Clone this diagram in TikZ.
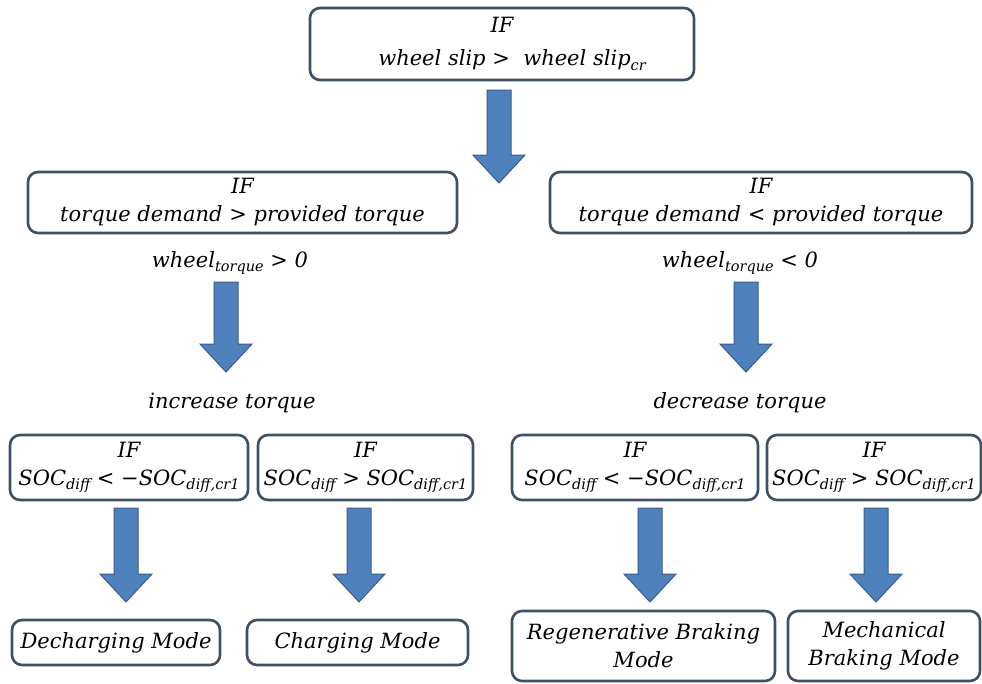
\documentclass[tikz,border=0pt]{standalone}
\usepackage{fontspec}
\setmainfont{DejaVu Serif}
\definecolor{arrfill}{RGB}{79,129,189}
\definecolor{arrdraw}{RGB}{56,93,138}
\definecolor{boxdraw}{RGB}{62,80,100}
\newcommand{\sbs}[1]{\raisebox{-4.5pt}{\fontsize{14.5}{14.5}\selectfont\itshape #1}}
\newcommand{\downarr}[4]{% name, x, ytop, ytip
  \coordinate (#1-s) at (#2,#3);
  \coordinate (#1-e) at (#2,#4);
  \draw[barr] (#2-12,#3) -- (#2+12,#3) -- (#2+12,#4-28) -- (#2+26,#4-28)
     -- (#1-e) -- (#2-26,#4-28) -- (#2-12,#4-28) -- cycle;}
\tikzset{
  box/.style={draw=boxdraw, line width=2.6pt, rounded corners=10pt, fill=white,
    align=center, inner sep=0pt, font=\fontsize{21}{28}\selectfont\itshape},
  lbl/.style={inner sep=0pt, font=\fontsize{21}{28}\selectfont\itshape},
  barr/.style={fill=arrfill, draw=arrdraw, line width=1pt, line join=miter}
}
\begin{document}
\begin{tikzpicture}[x=1pt,y=-1pt]
\useasboundingbox (0,0) rectangle (982,683);
% top
\node[box, minimum width=384pt, minimum height=72pt] (top) at (502,44)
  {IF\\[5pt]\ \ \ wheel slip >\ \ wheel slip\sbs{cr}};
\downarr{a1}{499}{90}{183}
% middle
\node[box, minimum width=429pt, minimum height=61pt] (ml) at (242.5,202.5)
  {IF\\torque demand > provided torque};
\node[box, minimum width=422pt, minimum height=61pt] (mr) at (761,202.5)
  {IF\\torque demand < provided torque};
\node[lbl] (wl) at (230,263) {wheel\sbs{torque} > 0};
\node[lbl] (wr) at (740,263) {wheel\sbs{torque} < 0};
\downarr{a2}{226}{282}{372}
\downarr{a3}{746}{282}{372}
\node[lbl] (inc) at (232,403) {increase torque};
\node[lbl] (dec) at (740,403) {decrease torque};
% bottom conditions
\node[box, minimum width=238pt, minimum height=65pt] (b1) at (129,467.5)
  {IF\\SOC\sbs{diff} < −SOC\sbs{diff,cr1}};
\node[box, minimum width=215pt, minimum height=65pt] (b2) at (365.5,467.5)
  {IF\\SOC\sbs{diff} > SOC\sbs{diff,cr1}};
\node[box, minimum width=246pt, minimum height=65pt] (b3) at (635,467.5)
  {IF\\SOC\sbs{diff} < −SOC\sbs{diff,cr1}};
\node[box, minimum width=214pt, minimum height=65pt] (b4) at (874,467.5)
  {IF\\SOC\sbs{diff} > SOC\sbs{diff,cr1}};
\downarr{a4}{126}{508}{602}
\downarr{a5}{359}{508}{602}
\downarr{a6}{650}{508}{602}
\downarr{a7}{876}{508}{602}
% modes
\node[box, minimum width=208pt, minimum height=45pt] (m1) at (116,642.5)
  {Decharging Mode};
\node[box, minimum width=221pt, minimum height=45pt] (m2) at (357.5,642.5)
  {Charging Mode};
\node[box, minimum width=263pt, minimum height=70pt] (m3) at (643.5,646)
  {Regenerative Braking\\Mode};
\node[box, minimum width=192pt, minimum height=70pt] (m4) at (884,646)
  {Mechanical\\Braking Mode};
\end{tikzpicture}
\end{document}
